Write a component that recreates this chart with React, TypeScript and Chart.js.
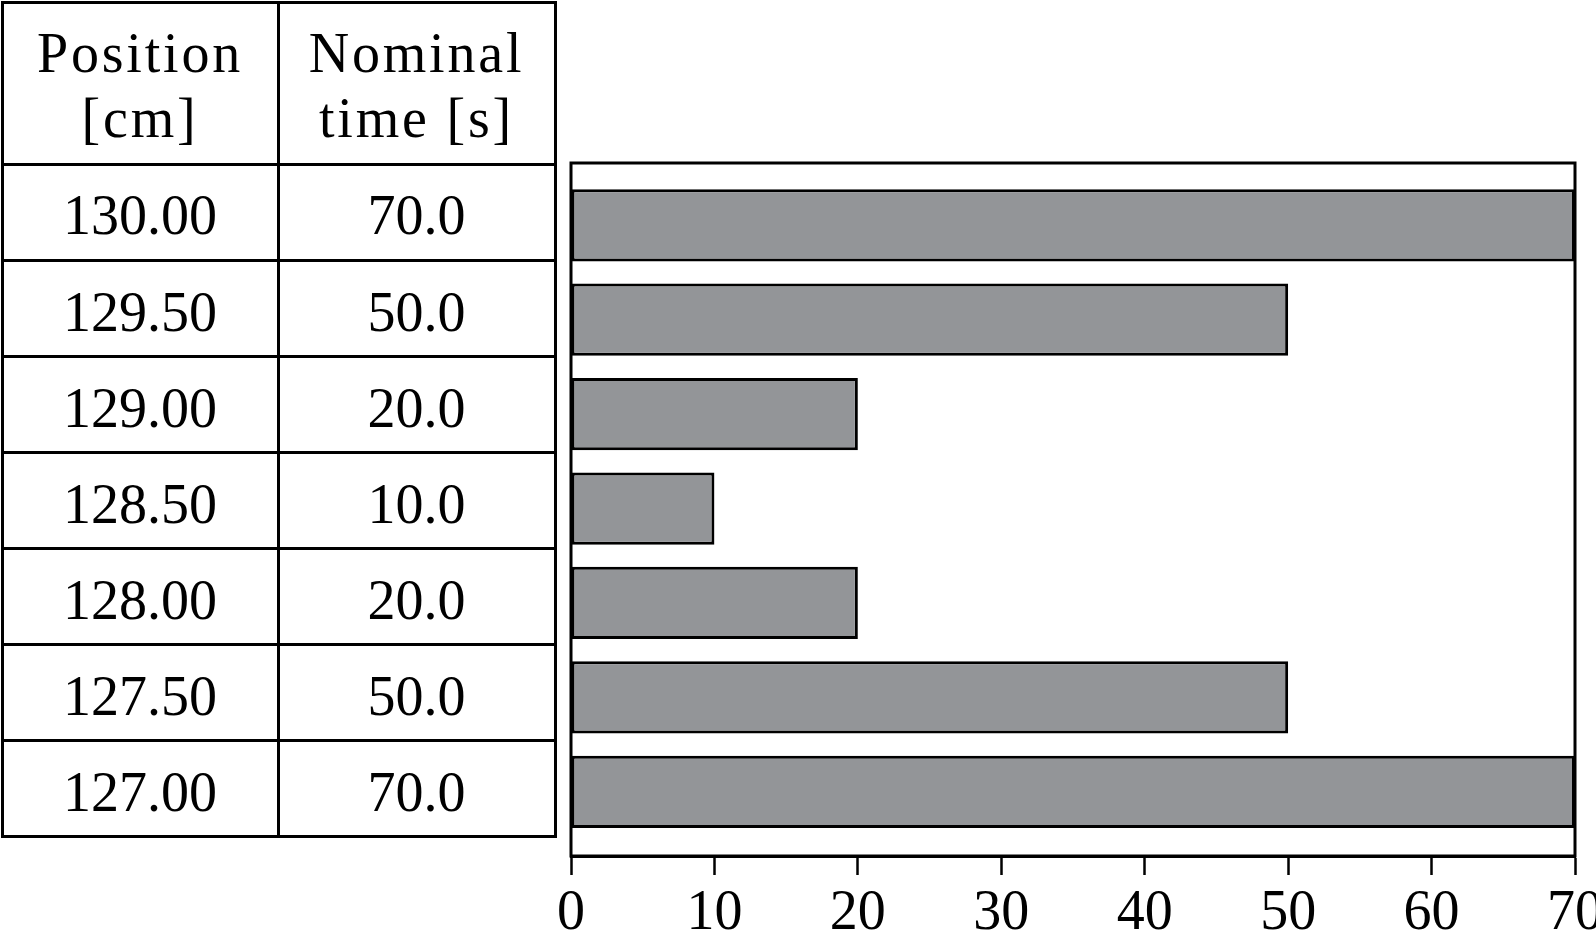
import React, { useEffect, useRef } from "react";
import { Chart, registerables } from "chart.js";

Chart.register(...registerables);

// ---- data ----
const positions = [130.0, 129.5, 129.0, 128.5, 128.0, 127.5, 127.0];
const positionLabels = ["130.00", "129.50", "129.00", "128.50", "128.00", "127.50", "127.00"];
const nominalTimes = [70, 50, 20, 10, 20, 50, 70];
const timeLabels = ["70.0", "50.0", "20.0", "10.0", "20.0", "50.0", "70.0"];
const headerPosition = ["Position", "[cm]"];
const headerTime = ["Nominal", "time [s]"];
const xTicks = [0, 10, 20, 30, 40, 50, 60, 70];

// ---- styles ----
const FONT = "'Liberation Serif', 'Times New Roman', serif";
const FONT_SIZE = 56;
const BAR_FILL = "#939598";
const LINE = 3;
const colLines = [2, 278, 555];
const rowLines = [2, 164, 260.5, 356.5, 452.5, 548.5, 644.5, 740.5, 836.5];

function Table() {
  const els: React.ReactNode[] = [];
  colLines.forEach((x, i) =>
    els.push(
      <div key={"c" + i} style={{ position: "absolute", left: x - LINE / 2, top: rowLines[0] - LINE / 2, width: LINE, height: rowLines[rowLines.length - 1] - rowLines[0] + LINE, background: "#000" }} />
    )
  );
  rowLines.forEach((y, i) =>
    els.push(
      <div key={"r" + i} style={{ position: "absolute", top: y - LINE / 2, left: colLines[0] - LINE / 2, height: LINE, width: colLines[2] - colLines[0] + LINE, background: "#000" }} />
    )
  );
  const cell = (key: string, col: number, row: number, content: React.ReactNode, padTop: number, extra: any = {}) => (
    <div
      key={key}
      style={{
        position: "absolute",
        left: colLines[col],
        top: rowLines[row] + padTop,
        width: colLines[col + 1] - colLines[col],
        height: rowLines[row + 1] - rowLines[row],
        display: "flex",
        flexDirection: "column",
        alignItems: "center",
        justifyContent: "center",
        fontFamily: FONT,
        fontSize: FONT_SIZE,
        lineHeight: "normal",
        color: "#000",
        whiteSpace: "nowrap",
        ...extra,
      }}
    >
      {content}
    </div>
  );
  const headStyle = { lineHeight: "65px", letterSpacing: "2.8px" };
  els.push(cell("h0", 0, 0, headerPosition.map((t, i) => <div key={i}>{t}</div>), 3, headStyle));
  els.push(cell("h1", 1, 0, headerTime.map((t, i) => <div key={i}>{t}</div>), 3, headStyle));
  positionLabels.forEach((t, i) => {
    els.push(cell("p" + i, 0, i + 1, <div>{t}</div>, 3));
    els.push(cell("t" + i, 1, i + 1, <div>{timeLabels[i]}</div>, 3));
  });
  return <>{els}</>;
}

const framePlugin = {
  id: "frame",
  afterDatasetsDraw(chart: any) {
    const { ctx, chartArea: a } = chart;
    ctx.save();
    ctx.strokeStyle = "#000";
    ctx.lineWidth = 3;
    ctx.strokeRect(a.left, a.top, a.right - a.left, a.bottom - a.top);
    ctx.restore();
  },
};

function BarChart() {
  const ref = useRef<HTMLCanvasElement | null>(null);
  useEffect(() => {
    if (!ref.current) return;
    const chart = new Chart(ref.current, {
      type: "bar",
      data: {
        datasets: [
          {
            data: positions.map((p, i) => ({ x: nominalTimes[i], y: p })),
            backgroundColor: BAR_FILL,
            borderColor: "#000",
            borderWidth: 3,
            borderSkipped: false,
            categoryPercentage: 1,
            barPercentage: 0.765,
          },
        ],
      },
      options: {
        indexAxis: "y",
        responsive: false,
        animation: false,
        layout: { padding: { left: 40, right: 40, top: 20, bottom: 0 } },
        plugins: { legend: { display: false }, tooltip: { enabled: false } },
        scales: {
          y: {
            type: "linear",
            min: 126.66,
            max: 130.33,
            offset: false,
            grace: 0,
            display: false,
            afterBuildTicks: (s: any) => {
              s.ticks = positions.map((v) => ({ value: v }));
            },
          },
          x: {
            type: "linear",
            min: 0,
            max: 70,
            offset: false,
            afterBuildTicks: (s: any) => {
              s.ticks = xTicks.map((v) => ({ value: v }));
            },
            afterFit: (s: any) => {
              s.height = 107;
            },
            ticks: {
              color: "#000",
              font: { family: FONT, size: FONT_SIZE },
              padding: 6,
              maxRotation: 0,
              autoSkip: false,
            },
            grid: {
              display: true,
              drawOnChartArea: false,
              drawTicks: true,
              tickLength: 19,
              tickWidth: 2.5,
              tickColor: "#000",
            },
            border: { display: true, color: "#000", width: 3 },
          },
        },
      },
      plugins: [framePlugin],
    } as any);
    return () => chart.destroy();
  }, []);
  return (
    <canvas
      ref={ref}
      width={1084}
      height={820}
      style={{ position: "absolute", left: 531, top: 143, width: 1084, height: 820 }}
    />
  );
}

export default function App() {
  return (
    <div style={{ position: "fixed", left: 0, top: 0, width: 1596, height: 935, overflow: "hidden", background: "#fff" }}>
      <Table />
      <BarChart />
    </div>
  );
}
